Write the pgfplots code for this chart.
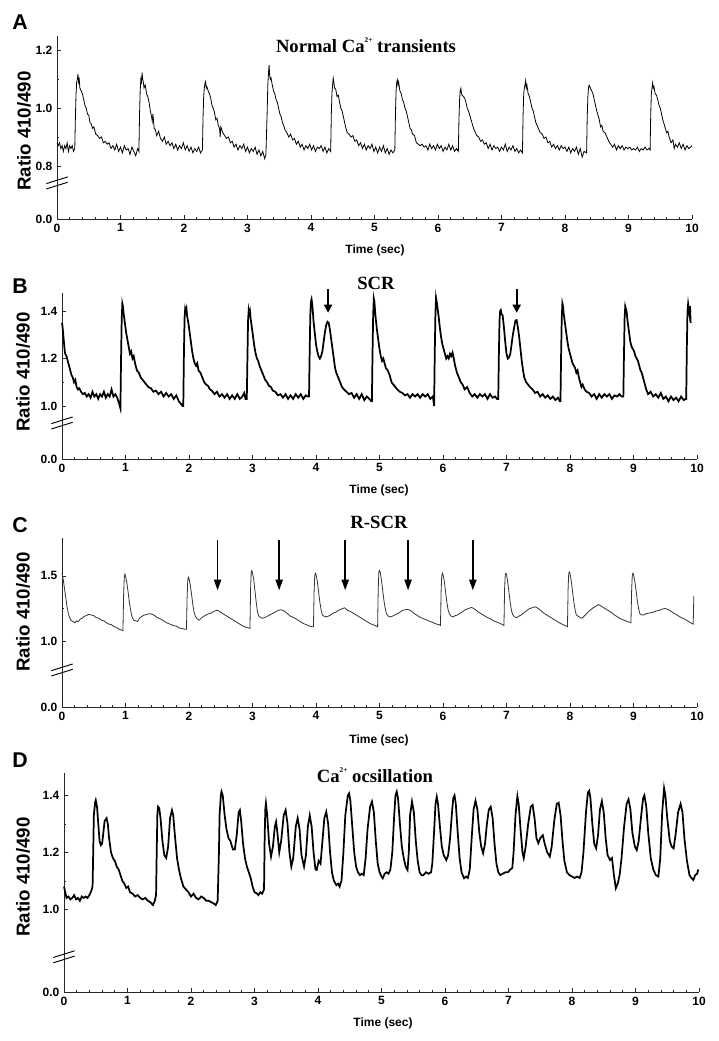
\documentclass[border=0pt]{standalone}
\usepackage{fontspec}
\setmainfont{Liberation Serif}
\setsansfont{Liberation Sans}
\usepackage{pgfplots}
\pgfplotsset{compat=1.18}
\usetikzlibrary{arrows.meta}

\pgfplotsset{
 panel/.style={
  scale only axis, width=476.25pt, anchor=south west,
  xmin=0, xmax=10, ymin=0, clip=false,
  axis lines=left, axis line style={-, black!85, line width=0.5pt},
  xtick={0,1,2,3,4,5,6,7,8,9,10}, minor x tick num=4,
  tick align=inside, major tick length=3pt, minor tick length=1.8pt,
  tick style={black!85, line width=0.5pt},
  /pgf/number format/assume math mode=true,
  ticklabel style={font=\sffamily\bfseries\fontsize{9}{9}\selectfont},
 }
}
\newcommand{\casup}{\raisebox{1.1ex}{\fontsize{5.5}{5.5}\selectfont 2+}}
\newcommand{\brk}[1]{%
 \draw[black, line width=0.7pt] ([xshift=-8pt,yshift=-0.5pt]rel axis cs:0,#1) -- ++(16pt,5pt);
 \draw[black, line width=0.7pt] ([xshift=-8pt,yshift=-4.5pt]rel axis cs:0,#1) -- ++(16pt,5pt);}
\newcommand{\carrow}[1]{\draw[black, line width=1.1pt, -{Triangle[length=8pt,width=5.5pt]}] (rel axis cs:#1,0.987) -- (rel axis cs:#1,0.691);}

\begin{document}
\begin{tikzpicture}[x=0.75pt,y=0.75pt]
\path[use as bounding box] (0,0) rectangle (718,1041);

% ---------------- Panel A ----------------
\node[font=\sffamily\bfseries\fontsize{16}{16}\selectfont] at (20,1019) {A};
\node[font=\rmfamily\bfseries\fontsize{14}{14}\selectfont] at (366,996) {Normal Ca\casup\ transients};
\node[rotate=90, font=\sffamily\bfseries\fontsize{14}{14}\selectfont] at (24,910) {Ratio 410/490};
\node[font=\sffamily\bfseries\fontsize{9}{9}\selectfont] at (375,791) {Time (sec)};
\begin{axis}[panel, at={(42.75pt,616.5pt)}, height=137.25pt, ymax=0.634,
  ytick={0,0.184,0.384,0.584}, yticklabels={0.0,0.8,1.0,1.2},
  minor ytick={0.284,0.484}]
\addplot[black, line width=0.6pt, y filter/.expression={y-0.616}] coordinates {
(0.00,0.88) (0.02,0.87) (0.04,0.88) (0.06,0.86) (0.08,0.87) (0.10,0.85) (0.12,0.87) (0.14,0.86) (0.16,0.88) (0.18,0.85) (0.20,0.87) (0.22,0.86) (0.24,0.87) (0.26,0.85) (0.28,0.86)
(0.29,0.97) (0.30,1.05) (0.31,1.09) (0.32,1.10) (0.33,1.118) (0.34,1.09) (0.35,1.10) (0.36,1.07) (0.38,1.06) (0.40,1.05) (0.42,1.03) (0.44,1.01) (0.46,1.00) (0.48,0.98) (0.50,0.975) (0.52,0.95) (0.54,0.945) (0.56,0.93) (0.58,0.935) (0.61,0.91) (0.64,0.905) (0.67,0.895) (0.70,0.90) (0.73,0.88) (0.76,0.885) (0.79,0.875) (0.82,0.88) (0.85,0.86) (0.88,0.87) (0.91,0.855) (0.94,0.875) (0.97,0.85) (1.00,0.865) (1.03,0.845) (1.06,0.87) (1.09,0.855) (1.12,0.86) (1.15,0.84) (1.18,0.865) (1.21,0.85) (1.24,0.835) (1.27,0.86) (1.29,0.85)
(1.30,0.98) (1.31,1.06) (1.32,1.10) (1.33,1.09) (1.34,1.123) (1.35,1.10) (1.36,1.09) (1.37,1.07) (1.39,1.08) (1.41,1.05) (1.43,1.04) (1.45,1.02) (1.47,0.99) (1.49,0.97) (1.50,0.955) (1.51,0.98) (1.53,0.93) (1.55,0.925) (1.57,0.905) (1.60,0.92) (1.63,0.895) (1.66,0.885) (1.69,0.90) (1.72,0.875) (1.75,0.885) (1.78,0.87) (1.81,0.88) (1.84,0.86) (1.87,0.875) (1.90,0.855) (1.93,0.87) (1.96,0.86) (1.99,0.88) (2.02,0.855) (2.05,0.87) (2.08,0.85) (2.11,0.865) (2.14,0.845) (2.17,0.86) (2.20,0.85) (2.23,0.865) (2.26,0.845) (2.29,0.855)
(2.30,0.97) (2.31,1.04) (2.32,1.07) (2.33,1.085) (2.34,1.092) (2.35,1.07) (2.36,1.075) (2.38,1.06) (2.40,1.05) (2.42,1.035) (2.44,1.01) (2.46,1.00) (2.48,0.985) (2.50,0.96) (2.52,0.965) (2.54,0.94) (2.56,0.93) (2.57,0.90) (2.58,0.935) (2.61,0.915) (2.64,0.905) (2.67,0.895) (2.70,0.90) (2.73,0.88) (2.76,0.885) (2.79,0.865) (2.82,0.875) (2.85,0.855) (2.88,0.87) (2.91,0.86) (2.94,0.875) (2.97,0.85) (3.00,0.865) (3.03,0.845) (3.06,0.86) (3.09,0.85) (3.12,0.865) (3.15,0.84) (3.18,0.855) (3.21,0.835) (3.24,0.85) (3.27,0.825) (3.29,0.84)
(3.31,0.99) (3.32,1.08) (3.33,1.12) (3.34,1.149) (3.35,1.11) (3.36,1.10) (3.37,1.105) (3.39,1.08) (3.41,1.06) (3.43,1.05) (3.45,1.03) (3.47,1.02) (3.49,1.00) (3.51,0.98) (3.53,0.97) (3.55,0.95) (3.57,0.94) (3.59,0.925) (3.62,0.915) (3.65,0.90) (3.68,0.91) (3.71,0.89) (3.74,0.895) (3.77,0.875) (3.80,0.885) (3.83,0.865) (3.86,0.875) (3.89,0.855) (3.92,0.87) (3.95,0.86) (3.98,0.875) (4.01,0.855) (4.04,0.87) (4.07,0.85) (4.10,0.865) (4.13,0.86) (4.16,0.87) (4.19,0.85) (4.22,0.865) (4.25,0.845) (4.28,0.86) (4.31,0.85)
(4.32,0.98) (4.33,1.05) (4.34,1.08) (4.35,1.104) (4.36,1.09) (4.37,1.07) (4.39,1.065) (4.41,1.04) (4.43,1.045) (4.45,1.02) (4.47,1.00) (4.49,0.99) (4.51,0.97) (4.53,0.95) (4.55,0.93) (4.57,0.915) (4.60,0.91) (4.63,0.90) (4.66,0.905) (4.69,0.885) (4.72,0.89) (4.75,0.87) (4.78,0.88) (4.81,0.86) (4.84,0.875) (4.87,0.855) (4.90,0.87) (4.93,0.86) (4.96,0.875) (4.99,0.85) (5.02,0.865) (5.05,0.845) (5.08,0.865) (5.11,0.85) (5.14,0.87) (5.17,0.845) (5.20,0.86) (5.23,0.84) (5.26,0.855) (5.29,0.845) (5.32,0.855)
(5.33,0.98) (5.34,1.06) (5.35,1.09) (5.36,1.098) (5.37,1.08) (5.38,1.09) (5.40,1.06) (5.42,1.05) (5.44,1.03) (5.46,1.02) (5.48,1.00) (5.50,0.99) (5.52,0.97) (5.54,0.95) (5.56,0.93) (5.58,0.925) (5.60,0.91) (5.63,0.905) (5.66,0.88) (5.69,0.875) (5.72,0.87) (5.75,0.875) (5.78,0.865) (5.81,0.87) (5.84,0.855) (5.87,0.875) (5.90,0.86) (5.93,0.87) (5.96,0.855) (5.99,0.875) (6.02,0.86) (6.05,0.87) (6.08,0.85) (6.11,0.865) (6.14,0.855) (6.17,0.875) (6.20,0.855) (6.23,0.87) (6.26,0.85) (6.29,0.86) (6.32,0.85)
(6.33,0.96) (6.34,1.03) (6.35,1.06) (6.36,1.069) (6.37,1.05) (6.38,1.045) (6.40,1.04) (6.42,1.035) (6.44,1.02) (6.46,1.00) (6.48,0.99) (6.50,0.975) (6.52,0.96) (6.54,0.945) (6.56,0.93) (6.58,0.92) (6.61,0.905) (6.64,0.90) (6.67,0.885) (6.70,0.89) (6.73,0.875) (6.76,0.88) (6.79,0.86) (6.82,0.875) (6.85,0.855) (6.88,0.87) (6.91,0.86) (6.94,0.865) (6.97,0.85) (7.00,0.865) (7.03,0.855) (7.06,0.875) (7.09,0.85) (7.12,0.865) (7.15,0.855) (7.18,0.87) (7.21,0.85) (7.24,0.86) (7.27,0.845) (7.30,0.855) (7.33,0.845)
(7.34,0.98) (7.35,1.05) (7.36,1.07) (7.37,1.08) (7.38,1.095) (7.39,1.07) (7.40,1.08) (7.42,1.05) (7.44,1.04) (7.46,1.02) (7.48,1.00) (7.50,0.99) (7.52,0.97) (7.54,0.95) (7.56,0.94) (7.58,0.93) (7.61,0.915) (7.64,0.91) (7.67,0.895) (7.70,0.90) (7.73,0.88) (7.76,0.885) (7.79,0.865) (7.82,0.875) (7.85,0.86) (7.88,0.87) (7.91,0.855) (7.94,0.87) (7.97,0.86) (8.00,0.865) (8.03,0.85) (8.06,0.865) (8.09,0.845) (8.12,0.86) (8.15,0.85) (8.18,0.865) (8.21,0.84) (8.24,0.86) (8.27,0.83) (8.30,0.85) (8.34,0.845)
(8.35,0.97) (8.36,1.04) (8.37,1.07) (8.38,1.08) (8.39,1.075) (8.40,1.07) (8.42,1.06) (8.44,1.05) (8.46,1.03) (8.48,1.01) (8.50,0.99) (8.52,0.975) (8.54,0.96) (8.56,0.935) (8.58,0.94) (8.60,0.92) (8.63,0.915) (8.66,0.90) (8.69,0.885) (8.72,0.875) (8.75,0.865) (8.78,0.875) (8.81,0.855) (8.84,0.87) (8.87,0.86) (8.90,0.87) (8.93,0.855) (8.96,0.865) (8.99,0.86) (9.02,0.865) (9.05,0.855) (9.08,0.86) (9.11,0.855) (9.14,0.865) (9.17,0.85) (9.20,0.86) (9.23,0.855) (9.26,0.865) (9.29,0.855) (9.32,0.86) (9.34,0.855)
(9.35,0.98) (9.36,1.05) (9.37,1.07) (9.38,1.087) (9.39,1.07) (9.40,1.075) (9.42,1.05) (9.44,1.045) (9.46,1.03) (9.48,1.01) (9.50,1.00) (9.52,0.98) (9.54,0.96) (9.56,0.945) (9.58,0.93) (9.60,0.915) (9.62,0.92) (9.64,0.90) (9.67,0.88) (9.70,0.89) (9.72,0.86) (9.74,0.875) (9.77,0.865) (9.80,0.88) (9.83,0.86) (9.86,0.875) (9.89,0.855) (9.92,0.87) (9.95,0.86) (9.98,0.865) (10.00,0.87)
};
\brk{0.197}
\end{axis}

% ---------------- Panel B ----------------
\node[font=\sffamily\bfseries\fontsize{16}{16}\selectfont] at (20,755) {B};
\node[font=\rmfamily\bfseries\fontsize{14}{14}\selectfont] at (376,758) {SCR};
\node[rotate=90, font=\sffamily\bfseries\fontsize{14}{14}\selectfont] at (23,669) {Ratio 410/490};
\node[font=\sffamily\bfseries\fontsize{9}{9}\selectfont] at (379,551) {Time (sec)};
\begin{axis}[panel, at={(46.5pt,436.5pt)}, height=124.5pt, ymax=0.699,
  ytick={0,0.223,0.423,0.623}, yticklabels={0.0,1.0,1.2,1.4},
  minor ytick={0.323,0.523}]
\addplot[black, line width=1.3pt, y filter/.expression={y-0.777}] coordinates {
(0.00,1.35) (0.01,1.33) (0.02,1.30) (0.03,1.27) (0.04,1.24) (0.05,1.22) (0.07,1.21) (0.09,1.19) (0.11,1.17) (0.13,1.15) (0.15,1.13) (0.17,1.12) (0.19,1.10) (0.21,1.11) (0.23,1.08) (0.25,1.07) (0.27,1.075) (0.30,1.06) (0.33,1.05) (0.36,1.055) (0.39,1.04) (0.42,1.05) (0.45,1.035) (0.48,1.06) (0.51,1.04) (0.54,1.05) (0.57,1.03) (0.60,1.05) (0.63,1.04) (0.66,1.06) (0.69,1.035) (0.72,1.05) (0.75,1.04) (0.78,1.07) (0.81,1.04) (0.84,1.05) (0.87,1.035) (0.90,1.01) (0.92,0.99)
(0.93,1.20) (0.94,1.36) (0.95,1.432) (0.96,1.42) (0.97,1.39) (0.98,1.37) (0.99,1.35) (1.01,1.31) (1.03,1.28) (1.05,1.25) (1.07,1.22) (1.09,1.23) (1.11,1.20) (1.13,1.21) (1.15,1.18) (1.18,1.15) (1.21,1.14) (1.24,1.12) (1.27,1.11) (1.30,1.10) (1.33,1.09) (1.36,1.08) (1.40,1.075) (1.44,1.06) (1.48,1.065) (1.52,1.05) (1.56,1.06) (1.60,1.04) (1.64,1.055) (1.68,1.04) (1.72,1.05) (1.76,1.03) (1.80,1.045) (1.84,1.02) (1.87,1.01) (1.90,1.00) (1.91,1.00)
(1.92,1.22) (1.93,1.37) (1.94,1.41) (1.95,1.40) (1.96,1.41) (1.97,1.38) (1.99,1.35) (2.01,1.31) (2.03,1.27) (2.05,1.23) (2.07,1.20) (2.09,1.18) (2.11,1.17) (2.13,1.18) (2.15,1.15) (2.18,1.14) (2.21,1.12) (2.24,1.10) (2.27,1.09) (2.30,1.085) (2.33,1.07) (2.36,1.065) (2.40,1.05) (2.44,1.06) (2.48,1.04) (2.52,1.05) (2.56,1.035) (2.60,1.05) (2.64,1.03) (2.68,1.045) (2.72,1.03) (2.76,1.05) (2.80,1.03) (2.84,1.04) (2.87,1.055) (2.89,1.03) (2.91,1.03)
(2.92,1.20) (2.93,1.36) (2.94,1.404) (2.95,1.39) (2.96,1.40) (2.97,1.37) (2.99,1.33) (3.01,1.29) (3.03,1.25) (3.05,1.22) (3.07,1.20) (3.09,1.19) (3.11,1.17) (3.14,1.15) (3.17,1.13) (3.20,1.11) (3.23,1.10) (3.26,1.085) (3.29,1.08) (3.32,1.065) (3.36,1.06) (3.40,1.045) (3.44,1.05) (3.48,1.035) (3.52,1.05) (3.56,1.03) (3.60,1.045) (3.64,1.03) (3.68,1.05) (3.72,1.035) (3.76,1.05) (3.80,1.03) (3.84,1.045) (3.87,1.04) (3.89,1.04)
(3.90,1.22) (3.91,1.38) (3.92,1.44) (3.93,1.45) (3.94,1.43) (3.95,1.40) (3.96,1.36) (3.98,1.31) (4.00,1.26) (4.02,1.23) (4.04,1.21) (4.06,1.20) (4.08,1.21) (4.10,1.23) (4.12,1.27) (4.14,1.31) (4.16,1.34) (4.18,1.355) (4.20,1.35) (4.22,1.32) (4.24,1.28) (4.26,1.24) (4.28,1.20) (4.30,1.16) (4.32,1.14) (4.35,1.12) (4.38,1.10) (4.41,1.08) (4.44,1.07) (4.48,1.06) (4.52,1.05) (4.56,1.055) (4.60,1.035) (4.64,1.05) (4.68,1.03) (4.72,1.05) (4.76,1.025) (4.80,1.04) (4.84,1.03) (4.87,1.02) (4.88,1.02)
(4.89,1.22) (4.90,1.38) (4.91,1.453) (4.92,1.44) (4.93,1.40) (4.94,1.37) (4.96,1.32) (4.98,1.28) (5.00,1.24) (5.02,1.21) (5.04,1.19) (5.06,1.20) (5.08,1.18) (5.10,1.16) (5.13,1.15) (5.16,1.13) (5.19,1.10) (5.22,1.09) (5.25,1.08) (5.28,1.07) (5.32,1.06) (5.36,1.055) (5.40,1.045) (5.44,1.05) (5.48,1.035) (5.52,1.05) (5.56,1.04) (5.60,1.05) (5.64,1.035) (5.68,1.05) (5.72,1.04) (5.76,1.05) (5.80,1.03) (5.84,1.04) (5.86,1.00)
(5.87,1.22) (5.88,1.38) (5.89,1.456) (5.90,1.44) (5.91,1.42) (5.93,1.38) (5.95,1.33) (5.97,1.29) (5.99,1.26) (6.01,1.24) (6.03,1.22) (6.05,1.20) (6.07,1.21) (6.09,1.20) (6.11,1.22) (6.13,1.21) (6.15,1.225) (6.17,1.20) (6.19,1.17) (6.22,1.14) (6.25,1.12) (6.28,1.10) (6.31,1.09) (6.34,1.07) (6.38,1.08) (6.42,1.055) (6.46,1.04) (6.50,1.05) (6.54,1.035) (6.58,1.05) (6.62,1.04) (6.66,1.05) (6.70,1.03) (6.74,1.05) (6.78,1.035) (6.82,1.04) (6.85,1.03) (6.87,1.03)
(6.88,1.22) (6.89,1.36) (6.90,1.40) (6.91,1.404) (6.92,1.39) (6.94,1.38) (6.96,1.33) (6.98,1.27) (7.00,1.22) (7.02,1.20) (7.04,1.205) (7.06,1.22) (7.08,1.26) (7.10,1.30) (7.12,1.33) (7.14,1.36) (7.16,1.362) (7.18,1.33) (7.20,1.29) (7.22,1.24) (7.24,1.19) (7.26,1.15) (7.28,1.12) (7.31,1.10) (7.34,1.09) (7.37,1.08) (7.41,1.07) (7.45,1.055) (7.49,1.06) (7.53,1.04) (7.57,1.05) (7.61,1.035) (7.65,1.045) (7.69,1.03) (7.73,1.04) (7.77,1.025) (7.81,1.035) (7.84,1.02) (7.85,1.02)
(7.86,1.22) (7.87,1.37) (7.88,1.432) (7.89,1.42) (7.90,1.39) (7.92,1.35) (7.94,1.31) (7.96,1.27) (7.98,1.24) (8.00,1.22) (8.02,1.20) (8.04,1.18) (8.06,1.17) (8.08,1.16) (8.10,1.14) (8.12,1.15) (8.14,1.12) (8.16,1.10) (8.18,1.08) (8.20,1.09) (8.23,1.07) (8.26,1.06) (8.30,1.055) (8.34,1.04) (8.38,1.05) (8.42,1.03) (8.46,1.05) (8.50,1.035) (8.54,1.05) (8.58,1.04) (8.62,1.05) (8.66,1.03) (8.70,1.045) (8.74,1.04) (8.78,1.05) (8.81,1.04) (8.84,1.04)
(8.85,1.22) (8.86,1.37) (8.87,1.42) (8.88,1.41) (8.89,1.40) (8.91,1.35) (8.93,1.31) (8.95,1.27) (8.97,1.25) (8.99,1.24) (9.01,1.23) (9.03,1.21) (9.05,1.20) (9.07,1.19) (9.09,1.17) (9.11,1.15) (9.13,1.14) (9.15,1.12) (9.17,1.10) (9.20,1.07) (9.23,1.05) (9.27,1.06) (9.31,1.04) (9.35,1.05) (9.39,1.035) (9.43,1.055) (9.47,1.03) (9.51,1.04) (9.55,1.02) (9.59,1.04) (9.63,1.025) (9.67,1.035) (9.71,1.02) (9.75,1.04) (9.79,1.025) (9.82,1.03) (9.83,1.03)
(9.84,1.25) (9.85,1.40) (9.86,1.43) (9.87,1.41) (9.88,1.39) (9.89,1.42) (9.90,1.35)
};
\brk{0.217}
\draw[black, line width=1.4pt, -{Triangle[length=6pt,width=6pt]}] (rel axis cs:0.419,1.024) -- (rel axis cs:0.419,0.881);
\draw[black, line width=1.4pt, -{Triangle[length=6pt,width=6pt]}] (rel axis cs:0.716,1.024) -- (rel axis cs:0.716,0.881);
\end{axis}

% ---------------- Panel C ----------------
\node[font=\sffamily\bfseries\fontsize{16}{16}\selectfont] at (20,516) {C};
\node[font=\rmfamily\bfseries\fontsize{14}{14}\selectfont] at (379,519) {R-SCR};
\node[rotate=90, font=\sffamily\bfseries\fontsize{14}{14}\selectfont] at (23,429) {Ratio 410/490};
\node[font=\sffamily\bfseries\fontsize{9}{9}\selectfont] at (379,301) {Time (sec)};
\begin{axis}[panel, at={(46.5pt,250.5pt)}, height=126.75pt, ymax=1.295,
  ytick={0,0.505,1.005}, yticklabels={0.0,1.0,1.5},
  minor ytick={0.755}]
\addplot[black!80, line width=0.6pt, y filter/.expression={y-0.495}] coordinates {
(0.00,1.52) (0.02,1.47) (0.04,1.40) (0.06,1.33) (0.08,1.26) (0.10,1.21) (0.12,1.18) (0.14,1.16) (0.17,1.15) (0.20,1.14) (0.23,1.155) (0.26,1.15) (0.29,1.17) (0.32,1.175) (0.35,1.19) (0.38,1.195) (0.42,1.205) (0.46,1.20) (0.50,1.195) (0.54,1.18) (0.58,1.175) (0.62,1.16) (0.66,1.155) (0.70,1.14) (0.74,1.13) (0.78,1.125) (0.82,1.11) (0.86,1.105) (0.90,1.09) (0.94,1.085) (0.96,1.08)
(0.97,1.35) (0.98,1.48) (0.99,1.513) (1.00,1.50) (1.02,1.45) (1.04,1.38) (1.06,1.30) (1.08,1.24) (1.10,1.19) (1.13,1.16) (1.16,1.155) (1.19,1.15) (1.22,1.175) (1.26,1.19) (1.30,1.20) (1.34,1.205) (1.38,1.21) (1.42,1.205) (1.46,1.195) (1.50,1.18) (1.55,1.17) (1.60,1.155) (1.65,1.14) (1.70,1.13) (1.75,1.12) (1.80,1.115) (1.85,1.10) (1.90,1.095) (1.94,1.09) (1.96,1.09)
(1.97,1.33) (1.98,1.46) (1.99,1.49) (2.00,1.48) (2.02,1.43) (2.04,1.36) (2.06,1.28) (2.08,1.22) (2.10,1.19) (2.13,1.17) (2.16,1.16) (2.19,1.175) (2.23,1.19) (2.27,1.20) (2.31,1.21) (2.35,1.215) (2.40,1.23) (2.45,1.237) (2.50,1.22) (2.55,1.205) (2.60,1.19) (2.65,1.175) (2.70,1.16) (2.75,1.145) (2.80,1.13) (2.85,1.115) (2.90,1.105) (2.95,1.10) (2.96,1.096)
(2.97,1.40) (2.98,1.53) (2.99,1.54) (3.00,1.52) (3.02,1.47) (3.04,1.38) (3.06,1.29) (3.08,1.22) (3.10,1.19) (3.13,1.18) (3.16,1.175) (3.19,1.18) (3.23,1.19) (3.27,1.20) (3.31,1.21) (3.35,1.22) (3.40,1.235) (3.45,1.24) (3.50,1.23) (3.55,1.21) (3.60,1.19) (3.65,1.18) (3.70,1.165) (3.75,1.15) (3.80,1.135) (3.85,1.125) (3.90,1.115) (3.94,1.11) (3.96,1.11)
(3.97,1.38) (3.98,1.50) (3.99,1.52) (4.00,1.51) (4.02,1.46) (4.04,1.38) (4.06,1.30) (4.08,1.24) (4.10,1.20) (4.13,1.19) (4.16,1.185) (4.19,1.19) (4.23,1.20) (4.27,1.215) (4.31,1.22) (4.35,1.235) (4.40,1.245) (4.45,1.255) (4.50,1.235) (4.55,1.225) (4.60,1.21) (4.65,1.195) (4.70,1.18) (4.75,1.165) (4.80,1.15) (4.85,1.135) (4.90,1.125) (4.95,1.115) (4.97,1.11)
(4.98,1.40) (4.99,1.53) (5.00,1.54) (5.01,1.53) (5.03,1.47) (5.05,1.39) (5.07,1.31) (5.09,1.25) (5.11,1.21) (5.14,1.19) (5.17,1.185) (5.20,1.19) (5.24,1.20) (5.28,1.21) (5.32,1.22) (5.36,1.235) (5.40,1.24) (5.45,1.243) (5.50,1.23) (5.55,1.21) (5.60,1.195) (5.65,1.18) (5.70,1.17) (5.75,1.16) (5.80,1.15) (5.85,1.14) (5.90,1.13) (5.94,1.125) (5.96,1.12)
(5.97,1.38) (5.98,1.50) (5.99,1.52) (6.00,1.51) (6.02,1.46) (6.04,1.38) (6.06,1.30) (6.08,1.24) (6.10,1.21) (6.13,1.19) (6.16,1.185) (6.19,1.195) (6.23,1.20) (6.27,1.215) (6.31,1.225) (6.35,1.24) (6.40,1.25) (6.45,1.258) (6.50,1.245) (6.55,1.225) (6.60,1.21) (6.65,1.195) (6.70,1.18) (6.75,1.17) (6.80,1.155) (6.85,1.145) (6.90,1.135) (6.94,1.125) (6.96,1.12)
(6.97,1.40) (6.98,1.51) (6.99,1.52) (7.00,1.51) (7.02,1.45) (7.04,1.37) (7.06,1.29) (7.08,1.23) (7.10,1.20) (7.13,1.185) (7.16,1.18) (7.19,1.19) (7.23,1.20) (7.27,1.215) (7.31,1.23) (7.35,1.245) (7.40,1.255) (7.45,1.263) (7.50,1.25) (7.55,1.23) (7.60,1.21) (7.65,1.195) (7.70,1.18) (7.75,1.165) (7.80,1.15) (7.85,1.135) (7.90,1.125) (7.94,1.115) (7.96,1.11)
(7.97,1.40) (7.98,1.52) (7.99,1.53) (8.00,1.52) (8.02,1.46) (8.04,1.38) (8.06,1.30) (8.08,1.24) (8.10,1.20) (8.13,1.19) (8.16,1.18) (8.19,1.175) (8.22,1.19) (8.26,1.21) (8.30,1.23) (8.35,1.25) (8.40,1.265) (8.45,1.28) (8.50,1.265) (8.55,1.25) (8.60,1.235) (8.65,1.22) (8.70,1.20) (8.75,1.185) (8.80,1.17) (8.85,1.16) (8.90,1.15) (8.94,1.145) (8.96,1.14)
(8.97,1.38) (8.98,1.50) (8.99,1.52) (9.00,1.51) (9.02,1.46) (9.04,1.39) (9.06,1.31) (9.08,1.25) (9.10,1.21) (9.13,1.20) (9.16,1.20) (9.20,1.21) (9.25,1.215) (9.30,1.22) (9.35,1.23) (9.40,1.235) (9.45,1.245) (9.50,1.25) (9.55,1.24) (9.60,1.225) (9.65,1.21) (9.70,1.195) (9.75,1.18) (9.80,1.17) (9.85,1.155) (9.90,1.14) (9.94,1.13) (9.95,1.345)
};
\brk{0.219}
\carrow{0.245}
\carrow{0.342}
\carrow{0.446}
\carrow{0.545}
\carrow{0.647}
\end{axis}

% ---------------- Panel D ----------------
\node[font=\sffamily\bfseries\fontsize{16}{16}\selectfont] at (20,281) {D};
\node[font=\rmfamily\bfseries\fontsize{14}{14}\selectfont] at (375,266) {Ca\casup\ ocsillation};
\node[rotate=90, font=\sffamily\bfseries\fontsize{14}{14}\selectfont] at (23,164) {Ratio 410/490};
\node[font=\sffamily\bfseries\fontsize{9}{9}\selectfont] at (383,18) {Time (sec)};
\begin{axis}[panel, at={(48pt,36.75pt)}, height=163.95pt, ymax=0.767,
  ytick={0,0.29,0.49,0.69}, yticklabels={0.0,1.0,1.2,1.4},
  minor ytick={0.39,0.59}]
\addplot[black, line width=1.3pt, y filter/.expression={y-0.710}] coordinates {
(0.00,1.08) (0.02,1.06) (0.04,1.04) (0.07,1.045) (0.10,1.035) (0.13,1.04) (0.16,1.05) (0.19,1.035) (0.22,1.04) (0.25,1.03) (0.28,1.045) (0.31,1.04) (0.34,1.045) (0.37,1.04) (0.40,1.05) (0.43,1.065) (0.45,1.08)
(0.46,1.20) (0.47,1.33) (0.49,1.375) (0.50,1.383) (0.52,1.36) (0.54,1.30) (0.56,1.24) (0.58,1.225) (0.60,1.23) (0.62,1.27) (0.64,1.31) (0.67,1.32) (0.69,1.30) (0.71,1.25) (0.74,1.20) (0.77,1.18) (0.80,1.17) (0.83,1.15) (0.86,1.14) (0.89,1.12) (0.92,1.10) (0.95,1.09) (0.98,1.075) (1.01,1.08) (1.04,1.06) (1.08,1.055) (1.12,1.045) (1.16,1.05) (1.20,1.04) (1.24,1.035) (1.28,1.04) (1.32,1.03) (1.36,1.025) (1.40,1.015) (1.43,1.03) (1.45,1.05)
(1.46,1.20) (1.47,1.33) (1.48,1.36) (1.50,1.355) (1.52,1.32) (1.55,1.24) (1.58,1.19) (1.61,1.18) (1.64,1.22) (1.67,1.32) (1.70,1.348) (1.72,1.33) (1.75,1.25) (1.78,1.18) (1.81,1.14) (1.84,1.11) (1.88,1.08) (1.92,1.07) (1.96,1.06) (2.00,1.045) (2.04,1.055) (2.08,1.04) (2.12,1.035) (2.16,1.045) (2.20,1.04) (2.24,1.03) (2.28,1.03) (2.32,1.025) (2.36,1.02) (2.39,1.015) (2.42,1.03)
(2.44,1.20) (2.45,1.33) (2.47,1.40) (2.48,1.413) (2.50,1.40) (2.53,1.33) (2.56,1.28) (2.59,1.25) (2.62,1.24) (2.66,1.21) (2.69,1.21) (2.72,1.26) (2.75,1.34) (2.77,1.348) (2.79,1.31) (2.82,1.23) (2.85,1.18) (2.88,1.15) (2.91,1.13) (2.94,1.11) (2.97,1.08) (3.00,1.06) (3.03,1.057) (3.06,1.05) (3.09,1.06) (3.12,1.055) (3.15,1.07)
(3.16,1.25) (3.17,1.35) (3.18,1.372) (3.20,1.33) (3.23,1.23) (3.26,1.185) (3.29,1.22) (3.32,1.29) (3.34,1.307) (3.36,1.27) (3.39,1.20) (3.42,1.24) (3.46,1.33) (3.49,1.348) (3.52,1.30) (3.55,1.20) (3.58,1.15) (3.61,1.18) (3.65,1.29) (3.68,1.32) (3.71,1.28) (3.74,1.19) (3.78,1.15) (3.81,1.19) (3.84,1.29) (3.87,1.33) (3.90,1.29) (3.93,1.20) (3.96,1.14) (3.98,1.138) (4.01,1.17) (4.04,1.16) (4.07,1.24) (4.10,1.32) (4.13,1.342) (4.16,1.30) (4.19,1.20) (4.22,1.13) (4.25,1.10) (4.29,1.085) (4.32,1.09) (4.34,1.08) (4.37,1.10) (4.40,1.20) (4.43,1.33) (4.47,1.40) (4.49,1.407) (4.51,1.38) (4.54,1.29) (4.57,1.20) (4.60,1.15) (4.63,1.13) (4.66,1.12) (4.69,1.125) (4.72,1.12)
(4.75,1.18) (4.78,1.28) (4.82,1.36) (4.85,1.378) (4.88,1.34) (4.91,1.24) (4.94,1.16) (4.97,1.13) (5.00,1.115) (5.02,1.109) (5.05,1.125) (5.08,1.13) (5.11,1.125) (5.14,1.14) (5.17,1.20) (5.20,1.33) (5.22,1.40) (5.24,1.413) (5.26,1.39) (5.29,1.30) (5.32,1.22) (5.35,1.18) (5.38,1.15) (5.41,1.138) (5.43,1.20) (5.45,1.33) (5.48,1.378) (5.51,1.34) (5.54,1.24) (5.57,1.17) (5.60,1.13) (5.63,1.12) (5.66,1.12) (5.70,1.13) (5.74,1.125) (5.78,1.13) (5.80,1.16) (5.83,1.28) (5.85,1.37) (5.87,1.395) (5.89,1.37) (5.92,1.29) (5.95,1.22) (5.98,1.19) (6.02,1.173) (6.05,1.19) (6.08,1.25) (6.11,1.34) (6.13,1.39) (6.15,1.40) (6.17,1.37) (6.20,1.27) (6.23,1.18) (6.26,1.13) (6.30,1.109) (6.33,1.115) (6.36,1.11) (6.39,1.14) (6.42,1.25) (6.45,1.35) (6.48,1.381) (6.51,1.35) (6.54,1.27) (6.57,1.22) (6.60,1.197) (6.63,1.23) (6.66,1.30) (6.69,1.35) (6.72,1.36) (6.75,1.32) (6.78,1.23) (6.81,1.16) (6.84,1.13) (6.87,1.12) (6.91,1.125) (6.95,1.13) (6.99,1.13) (7.03,1.14) (7.06,1.145) (7.08,1.20) (7.11,1.33) (7.14,1.397) (7.16,1.37) (7.19,1.28) (7.22,1.20) (7.24,1.18) (7.27,1.22) (7.31,1.30) (7.35,1.36) (7.38,1.366) (7.41,1.32) (7.44,1.25) (7.47,1.232) (7.50,1.25) (7.54,1.26) (7.57,1.23) (7.61,1.20) (7.65,1.185) (7.68,1.22) (7.72,1.31) (7.76,1.37) (7.79,1.374) (7.82,1.33) (7.85,1.24) (7.88,1.17) (7.92,1.13) (7.96,1.12) (8.00,1.115) (8.04,1.11) (8.08,1.115) (8.12,1.11) (8.15,1.13) (8.18,1.20) (8.22,1.34) (8.25,1.41) (8.27,1.416) (8.29,1.39) (8.32,1.30) (8.35,1.23) (8.38,1.214) (8.41,1.26) (8.44,1.35) (8.47,1.38) (8.50,1.34) (8.53,1.25) (8.56,1.19) (8.60,1.173) (8.63,1.18) (8.66,1.12) (8.69,1.074) (8.72,1.09) (8.75,1.12) (8.78,1.18) (8.82,1.29) (8.86,1.37) (8.89,1.386) (8.92,1.35) (8.95,1.27) (8.99,1.22) (9.02,1.208) (9.05,1.24) (9.09,1.33) (9.12,1.39) (9.14,1.40) (9.17,1.36) (9.20,1.27) (9.24,1.18) (9.28,1.14) (9.32,1.12) (9.36,1.115) (9.39,1.18) (9.42,1.34) (9.45,1.425) (9.47,1.40) (9.50,1.32) (9.54,1.24) (9.57,1.22) (9.60,1.214) (9.63,1.26) (9.67,1.34) (9.71,1.37) (9.74,1.34) (9.77,1.25) (9.81,1.17) (9.85,1.12) (9.88,1.11) (9.91,1.103) (9.94,1.12) (9.97,1.125) (9.99,1.14)
};
\brk{0.161}
\end{axis}
\end{tikzpicture}
\end{document}
